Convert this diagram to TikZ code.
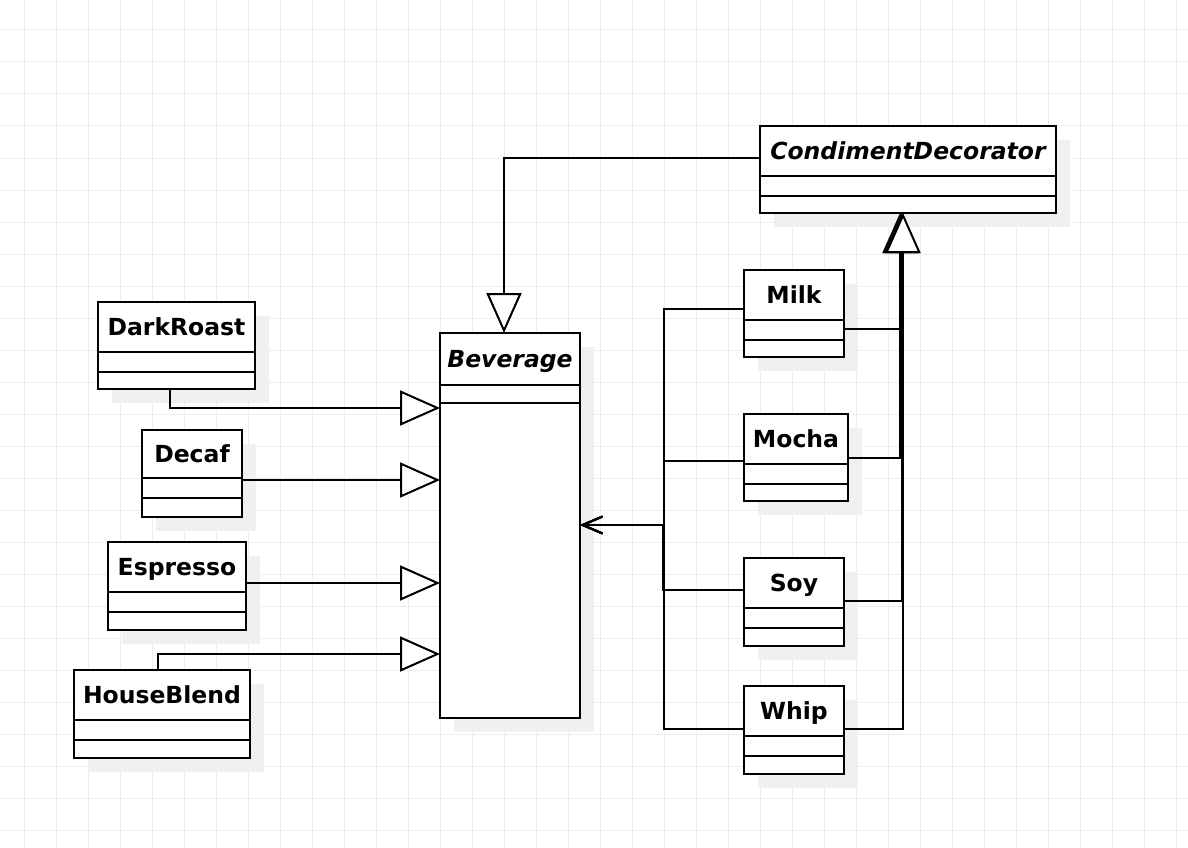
\documentclass[tikz,border=0pt]{standalone}
\usepackage{fontspec}
\setmainfont{DejaVu Sans}
\usetikzlibrary{arrows.meta,calc}
\definecolor{gridc}{RGB}{238,238,238}
\definecolor{shadowc}{RGB}{240,240,240}
\tikzset{
  clsbox/.style={draw=black, fill=white, line width=2pt, inner sep=0pt, outer sep=0pt, rectangle},
  clsline/.style={black, line width=2pt},
  clstext/.style={inner sep=0pt, font=\bfseries\fontsize{23.5}{27}\selectfont},
  gridline/.style={gridc, line width=1pt},
  gen/.style={line width=2pt, -{Triangle[open, fill=white, length=40pt, width=35pt]}},
  agg/.style={line width=2pt, -{Straight Barb[length=20pt, width=17pt]}},
}
\newcommand\umlcls[8]{%
  \fill[shadowc] (#2+14,#3+14) rectangle (#4+14,#5+14);
  \node[clsbox, minimum width={(#4-#2)*1pt}, minimum height={(#5-#3)*1pt}, anchor=north west] (#1) at (#2,#3) {};
  \draw[clsline] (#2,#6) -- (#4,#6);
  \draw[clsline] (#2,#7) -- (#4,#7);
  \node[clstext, anchor=base] (#1-name) at ({(#2+#4)/2},{(#3+#6)/2+8.5}) {#8};
}
\begin{document}
\begin{tikzpicture}[x=1pt, y=-1pt]
\fill[white] (0,0) rectangle (1188,848);
\useasboundingbox (0,0) rectangle (1188,848);
\foreach \i in {0,...,36} \draw[gridline] ({24+32*\i},0) -- ({24+32*\i},848);
\foreach \j in {0,...,25} \draw[gridline] (0,{30+32*\j}) -- (1188,{30+32*\j});

\umlcls{CD}{760}{126}{1056}{213}{176}{196}{\itshape CondimentDecorator}
\umlcls{Beverage}{440}{333}{580}{718}{385}{403}{\itshape Beverage}
\umlcls{DarkRoast}{98}{302}{255}{389}{352}{372}{DarkRoast}
\umlcls{Decaf}{142}{430}{242}{517}{478}{498}{Decaf}
\umlcls{Espresso}{108}{542}{246}{630}{592}{612}{Espresso}
\umlcls{HouseBlend}{74}{670}{250}{758}{720}{740}{HouseBlend}
\umlcls{Milk}{744}{270}{844}{357}{320}{340}{Milk}
\umlcls{Mocha}{744}{414}{848}{501}{464}{484}{Mocha}
\umlcls{Soy}{744}{558}{844}{646}{608}{628}{Soy}
\umlcls{Whip}{744}{686}{844}{774}{736}{756}{Whip}

% generalisation
\draw[gen] (CD.west |- 0,158) -| (Beverage.north -| 504,0);
\draw[gen] (DarkRoast.south -| 170,0) |- (Beverage.west |- 0,408);
\draw[gen] (Decaf.east |- 0,480) -- (Beverage.west |- 0,480);
\draw[gen] (Espresso.east |- 0,583) -- (Beverage.west |- 0,583);
\draw[gen] (HouseBlend.north -| 158,0) |- (Beverage.west |- 0,654);

\draw[gen] (Milk.east |- 0,329) -| (CD.south -| 901,0);
\draw[gen] (Mocha.east |- 0,458) -| (CD.south -| 900,0);
\draw[gen] (Soy.east |- 0,601) -| (CD.south -| 902,0);
\draw[gen] (Whip.east |- 0,729) -| (CD.south -| 903,0);

% aggregation to Beverage
\draw[agg] (Milk.west |- 0,309) -| (664,525) -- (Beverage.east |- 0,525);
\draw[agg] (Mocha.west |- 0,461) -| (664,525) -- (Beverage.east |- 0,525);
\draw[agg] (Soy.west |- 0,590) -| (662.5,525) -- (Beverage.east |- 0,525);
\draw[agg] (Whip.west |- 0,729) -| (664,525) -- (Beverage.east |- 0,525);
\end{tikzpicture}
\end{document}
